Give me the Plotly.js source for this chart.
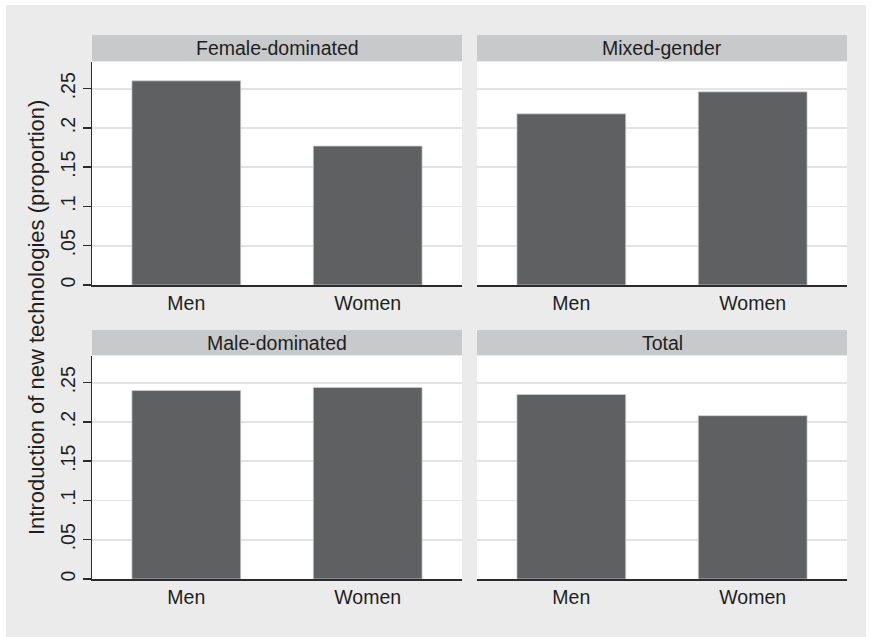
<!DOCTYPE html>
<html>
<head>
<meta charset="utf-8">
<script src="https://cdn.plot.ly/plotly-3.0.1.min.js"></script>
<style>
  html, body { margin: 0; padding: 0; background: #ffffff; }
  #chart { position: absolute; left: 6px; top: 5px; width: 860px; height: 632px; }
</style>
</head>
<body>
<div id="chart"></div>
<script>
// ---- data ----
const categories = ['Men', 'Women'];
const panelTitles = ['Female-dominated', 'Mixed-gender', 'Male-dominated', 'Total'];
const femaleDominated = [0.260, 0.177];
const mixedGender = [0.218, 0.246];
const maleDominated = [0.240, 0.244];
const totalAll = [0.235, 0.208];
const yTickVals = [0, 0.05, 0.1, 0.15, 0.2, 0.25];
const yTickText = ['0', '.05', '.1', '.15', '.2', '.25'];
const yTitle = 'Introduction of new technologies (proportion)';

const seriesList = [femaleDominated, mixedGender, maleDominated, totalAll];

// ---- layout geometry (fractions of the 860x632 canvas) ----
const W = 860, H = 632;
const colX = [[86 / W, 456 / W], [471 / W, 841 / W]];
const rowY = [[1 - 280 / H, 1 - 57 / H], [1 - 574 / H, 1 - 351 / H]];
const stripY = [[1 - 57 / H, 1 - 30 / H], [1 - 351 / H, 1 - 325 / H]];

const FONT = '"Liberation Sans", Arial, Helvetica, sans-serif';
const TXT = '#1e1e1e';
const barColor = '#5f6062';
const stripColor = '#c8c9cb';
const gridColor = '#e3e3e3';
const lineColor = '#2a2a2a';

const traces = [];
const layout = {
  width: W, height: H,
  margin: { l: 0, r: 0, t: 0, b: 0 },
  paper_bgcolor: '#ebebeb',
  plot_bgcolor: '#ffffff',
  showlegend: false,
  font: { family: FONT, color: TXT, size: 19 },
  shapes: [],
  annotations: []
};

for (let i = 0; i < 4; i++) {
  const row = Math.floor(i / 2), col = i % 2;
  const n = i + 1;
  const xa = n === 1 ? 'x' : 'x' + n;
  const ya = n === 1 ? 'y' : 'y' + n;
  traces.push({
    type: 'bar',
    x: categories,
    y: seriesList[i],
    xaxis: xa, yaxis: ya,
    width: 0.6,
    marker: { color: barColor, line: { color: 'rgba(210,210,210,0.9)', width: 0.8 } },
    hoverinfo: 'x+y'
  });
  const xKey = n === 1 ? 'xaxis' : 'xaxis' + n;
  const yKey = n === 1 ? 'yaxis' : 'yaxis' + n;
  layout[xKey] = {
    domain: colX[col],
    anchor: ya,
    range: [-0.52, 1.52],
    showgrid: false,
    zeroline: false,
    showline: true,
    linecolor: lineColor,
    linewidth: 1.5,
    ticks: '',
    tickfont: { family: FONT, size: 19.5, color: TXT },
    ticklabelstandoff: 0,
    fixedrange: true
  };
  layout[yKey] = {
    domain: rowY[row],
    anchor: xa,
    range: [0, 0.284],
    tickvals: yTickVals,
    ticktext: yTickText,
    showgrid: true,
    gridcolor: gridColor,
    gridwidth: 1.6,
    zeroline: false,
    showline: col === 0,
    linecolor: lineColor,
    linewidth: 1.5,
    ticks: col === 0 ? 'outside' : '',
    ticklen: 8,
    tickwidth: 1.5,
    tickcolor: lineColor,
    showticklabels: col === 0,
    tickangle: -90,
    tickfont: { family: FONT, size: 19.5, color: TXT },
    fixedrange: true
  };
  layout.shapes.push({
    type: 'rect', xref: 'paper', yref: 'paper',
    x0: colX[col][0], x1: colX[col][1],
    y0: stripY[row][0] + 1 / H, y1: stripY[row][1],
    fillcolor: stripColor, line: { width: 0 }, layer: 'below'
  });
  layout.annotations.push({
    xref: 'paper', yref: 'paper',
    x: (colX[col][0] + colX[col][1]) / 2,
    y: (stripY[row][0] + stripY[row][1]) / 2 + 0.5 / H,
    text: panelTitles[i], showarrow: false,
    xanchor: 'center', yanchor: 'middle',
    font: { family: FONT, size: 19.5, color: TXT }
  });
}

layout.annotations.push({
  xref: 'paper', yref: 'paper',
  x: 30 / W, y: 1 - 313 / H,
  text: yTitle, showarrow: false, textangle: -90,
  xanchor: 'center', yanchor: 'middle',
  font: { family: FONT, size: 22, color: TXT }
});

Plotly.newPlot('chart', traces, layout, { displayModeBar: false, staticPlot: true });
</script>
</body>
</html>
